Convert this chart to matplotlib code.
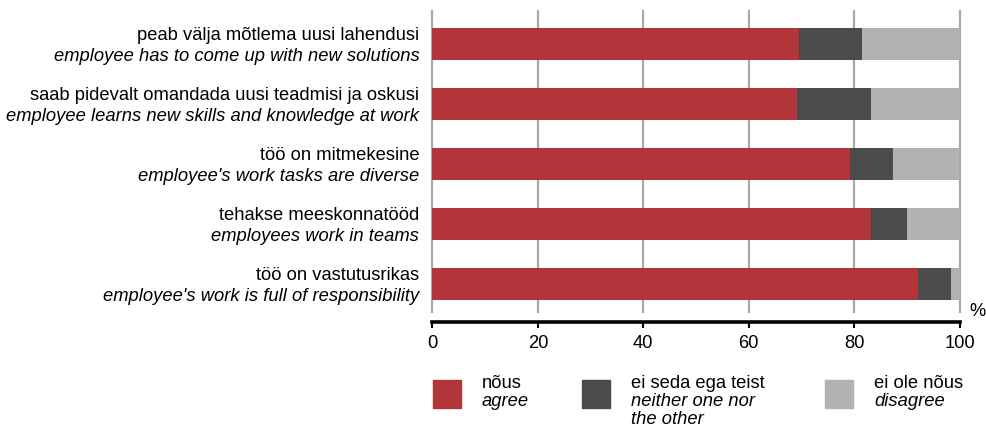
import numpy as np
import matplotlib.pyplot as plt
from matplotlib.patches import Rectangle

# survey statements (Estonian + English translation), top to bottom
labels_et = ['peab välja mõtlema uusi lahendusi',
             'saab pidevalt omandada uusi teadmisi ja oskusi',
             'töö on mitmekesine',
             'tehakse meeskonnatööd',
             'töö on vastutusrikas']
labels_en = ['employee has to come up with new solutions',
             'employee learns new skills and knowledge at work',
             "employee's work tasks are diverse",
             'employees work in teams',
             "employee's work is full of responsibility"]

# shares, %
agree = [69.6, 69.2, 79.3, 83.3, 92.2]
neither = [11.9, 14.1, 8.0, 6.8, 6.1]
disagree = [18.5, 16.7, 12.7, 9.9, 1.7]

legend_et = ['nõus', 'ei seda ega teist', 'ei ole nõus']
legend_en = ['agree', 'neither one nor\nthe other', 'disagree']
colors = ['#b2353a', '#4b4b4b', '#b2b2b2']
xticks = [0, 20, 40, 60, 80, 100]

plt.rcParams['font.family'] = ['Liberation Sans', 'DejaVu Sans']
plt.rcParams['font.size'] = 13.2

W, H = 987, 428
fig = plt.figure(figsize=(W / 100, H / 100), dpi=100)
ax = fig.add_axes([432.5 / W, (H - 322) / H, 527 / W, 312 / H])

y = np.arange(len(agree))
left = np.zeros(len(agree))
for vals, c in zip([agree, neither, disagree], colors):
    ax.barh(y, vals, left=left, height=0.52, color=c, zorder=3)
    left += np.array(vals)

ax.set_xlim(0, 100)
ax.set_ylim(4.633, -0.567)
ax.set_xticks(xticks)
ax.set_yticks([])
# gridlines stop a little above the axis line
ax.vlines(xticks, 4.483, -0.567, color='#a8a8a8', lw=1.6, zorder=0,
          clip_on=False)
for s in ['top', 'right', 'left']:
    ax.spines[s].set_visible(False)
ax.spines['bottom'].set_linewidth(2.6)
ax.spines['bottom'].set_color('black')
ax.tick_params(axis='x', direction='out', length=4, width=1.5,
               color='black', pad=5)

for i in range(len(y)):
    ax.annotate(labels_et[i], xy=(0, y[i]), xycoords=('axes fraction', 'data'),
                xytext=(-9.5, 6), textcoords='offset points',
                ha='right', va='center')
    ax.annotate(labels_en[i], xy=(0, y[i]), xycoords=('axes fraction', 'data'),
                xytext=(-9.5, -8.8), textcoords='offset points',
                ha='right', va='center', style='italic')

fig.text(978 / W, 1 - 311 / H, '%', ha='center', va='center')

# legend
sq_x = [433, 582, 825]
txt_x = [482, 631, 874]
for sx, tx, c, et, en in zip(sq_x, txt_x, colors, legend_et, legend_en):
    fig.add_artist(Rectangle((sx / W, 1 - 408 / H), 28 / W, 28 / H,
                             transform=fig.transFigure, color=c))
    fig.text(tx / W, 1 - 383 / H, et, ha='left', va='center')
    fig.text(tx / W, 1 - 393.5 / H, en, ha='left', va='top', style='italic',
             linespacing=1.05)

fig.savefig('out.png', dpi=100)
